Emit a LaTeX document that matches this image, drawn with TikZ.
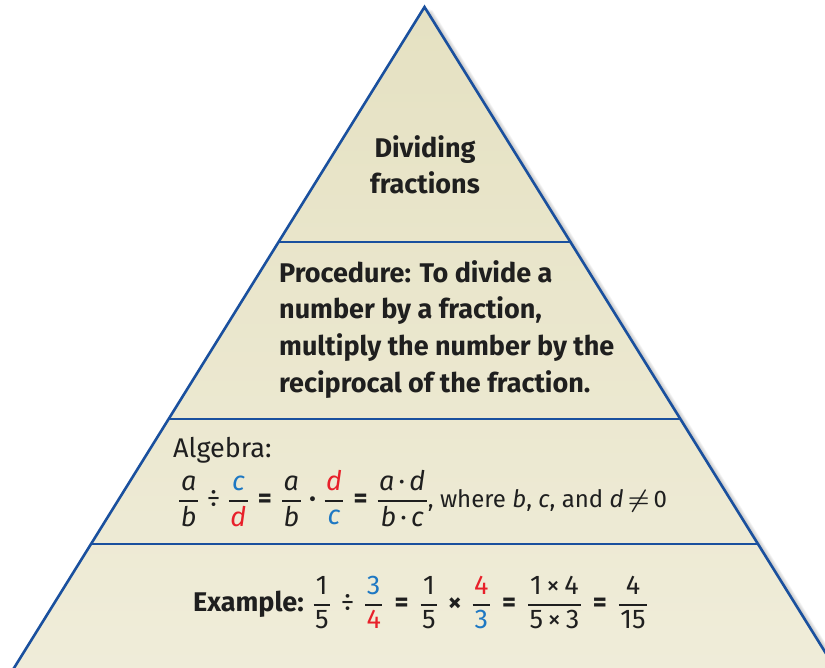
\documentclass[tikz,border=0pt]{standalone}
\usepackage{amsmath}
\usepackage{fontspec}
\setmainfont{Fira Sans}
\definecolor{edgeblue}{RGB}{26,80,158}
\definecolor{filltop}{RGB}{229,225,194}
\definecolor{fillbot}{RGB}{240,237,218}
\definecolor{numblue}{RGB}{30,120,195}
\definecolor{numred}{RGB}{232,32,42}
\newcommand{\fr}[2]{\genfrac{}{}{1.5pt}{0}{\hspace{1.5pt}#1\hspace{1.5pt}}{\hspace{1.5pt}#2\hspace{1.5pt}}}
\newcommand{\bl}[1]{\textcolor{numblue}{#1}}
\newcommand{\rd}[1]{\textcolor{numred}{#1}}
\newcommand{\tx}[1]{\text{\mdseries #1}}
\newcommand{\opsp}{2pt}
\newcommand{\opdiv}{\mathbin{\hspace{\opsp}\text{\mdseries ÷}\hspace{\opsp}}}
\newcommand{\optimes}{\mathbin{\hspace{\opsp}\text{\bfseries ×}\hspace{\opsp}}}
\newcommand{\opeq}{\mathrel{\hspace{\opsp}\text{\bfseries =}\hspace{\opsp}}}
\newcommand{\opdot}{\mathbin{\hspace{\opsp}\text{\bfseries ·}\hspace{\opsp}}}
\tikzset{
  edgeline/.style={draw=edgeblue, line width=2.6pt, line join=miter},
  bodytext/.style={inner sep=0pt, font=\fontsize{27}{32}\selectfont\bfseries, text=black!88},
  algtext/.style={inner sep=0pt, font=\fontsize{27}{32}\selectfont, text=black!88},
}
\begin{document}
\begin{tikzpicture}[x=1pt,y=-1pt]
\useasboundingbox (0,0) rectangle (825,667);
\clip (0,0) rectangle (825,667);
\coordinate (A) at (424.5,7);
\coordinate (BL) at (-4,697);
\coordinate (BR) at (853,697);
% soft shadow
\foreach \k in {1,...,8}{
  \fill[black, opacity=0.035] ([xshift=\k pt, yshift=-0.4*\k pt]A) -- ([xshift=\k pt, yshift=-0.4*\k pt]BL) -- ([xshift=\k pt, yshift=-0.4*\k pt]BR) -- cycle;
}
% body
\shade[top color=filltop, bottom color=fillbot] (A) -- (BL) -- (BR) -- cycle;
\draw[edgeline] (BL) -- (A) -- (BR);
% dividers
\coordinate (L1) at (278.6,242); \coordinate (R1) at (570.4,242);
\coordinate (L2) at (168.6,419); \coordinate (R2) at (680.4,419);
\coordinate (L3) at (91,544);    \coordinate (R3) at (758,544);
\draw[edgeline] (L1) -- (R1);
\draw[edgeline] (L2) -- (R2);
\draw[edgeline] (L3) -- (R3);
% title
\node[bodytext, anchor=base] (t1) at (425,157) {Dividing};
\node[bodytext, anchor=base] (t2) at (425,193) {fractions};
% procedure
\node[bodytext, anchor=base west] (p1) at (279,282) {Procedure: To divide a};
\node[bodytext, anchor=base west] (p2) at (279,318) {number by a fraction,};
\node[bodytext, anchor=base west] (p3) at (279,355) {multiply the number by the};
\node[bodytext, anchor=base west] (p4) at (279,392) {reciprocal of the fraction.};
% algebra
\node[algtext, anchor=base west] (a1) at (173,457) {Algebra:};
\node[algtext, anchor=base west] (a2) at (178,507)
  {$\fr{\textit{a}}{\textit{b}}\opdiv\fr{\bl{\textit{c}}}{\rd{\textit{d}}}
    \opeq\fr{\textit{a}}{\textit{b}}\opdot\fr{\rd{\textit{d}}}{\bl{\textit{c}}}
    \opeq\fr{\textit{a}\,·\,\textit{d}}{\textit{b}\,·\,\textit{c}}$\fontsize{24}{29}\selectfont, where \textit{b}, \textit{c}, and \textit{d}\,$\boldsymbol{\neq}$\,0};
% example
\node[bodytext, anchor=base west] (ex) at (193,611)
  {\renewcommand{\opsp}{4pt}Example: $\fr{\tx{1}}{\tx{5}}\opdiv\fr{\bl{\tx{3}}}{\rd{\tx{4}}}\opeq\fr{\tx{1}}{\tx{5}}\optimes\fr{\rd{\tx{4}}}{\bl{\tx{3}}}
    \opeq\fr{\tx{1\,×\,4}}{\tx{5\,×\,3}}\opeq\fr{\tx{4}}{\tx{15}}$};
\end{tikzpicture}
\end{document}
